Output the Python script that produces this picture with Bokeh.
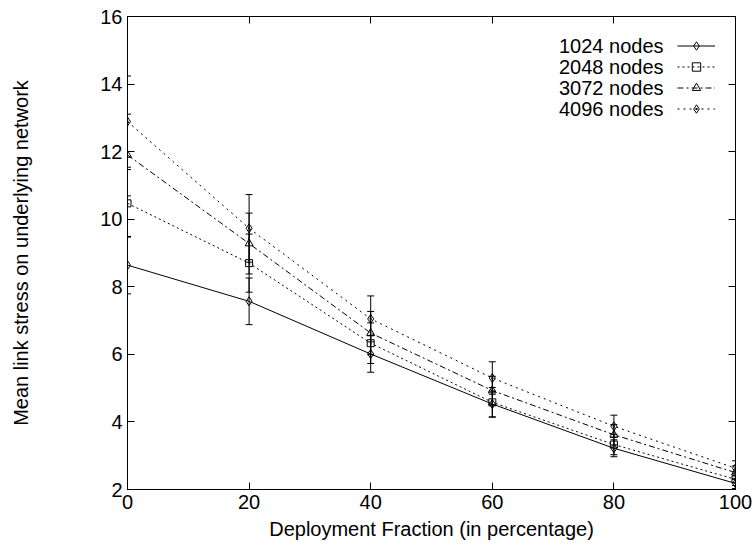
import numpy as np
from bokeh.plotting import figure
from bokeh.models import (Range1d, LinearAxis, FixedTicker, Whisker, ColumnDataSource,
                          Legend, LegendItem, Label, TeeHead)
from bokeh.embed import file_html
from bokeh.resources import INLINE

# ---------------- data ----------------
x_vals = [0, 20, 40, 60, 80, 100]
series_names = ["1024 nodes", "2048 nodes", "3072 nodes", "4096 nodes"]

mean_1024 = [8.64, 7.57, 6.01, 4.53, 3.22, 2.18]
mean_2048 = [10.47, 8.70, 6.33, 4.58, 3.33, 2.30]
mean_3072 = [11.90, 9.28, 6.63, 4.93, 3.62, 2.50]
mean_4096 = [12.89, 9.73, 7.05, 5.30, 3.87, 2.63]

err_1024 = [0.85, 0.69, 0.54, 0.38, 0.25, 0.15]
err_2048 = [1.00, 0.86, 0.60, 0.44, 0.30, 0.18]
err_3072 = [1.21, 0.90, 0.64, 0.42, 0.30, 0.20]
err_4096 = [1.35, 1.00, 0.68, 0.48, 0.33, 0.22]

x_ticks = [0, 20, 40, 60, 80, 100]
y_ticks = [2, 4, 6, 8, 10, 12, 14, 16]

# ---------------- styling ----------------
FONT = "Liberation Sans"
FS = "20px"
means = [mean_1024, mean_2048, mean_3072, mean_4096]
errs = [err_1024, err_2048, err_3072, err_4096]
dashes = ["solid", "2 3", "6 3 2 3", "2 4"]
markers = ["diamond", "square", "triangle", "diamond_dot"]
sizes = [9, 7, 8, 9]

p = figure(width=756, height=548, output_backend="svg", toolbar_location=None,
           x_range=Range1d(0, 100), y_range=Range1d(2, 16),
           min_border_left=127, min_border_right=21, min_border_top=16, min_border_bottom=59)
p.background_fill_color = "white"
p.border_fill_color = "white"
p.outline_line_color = "black"
p.outline_line_width = 1
p.xgrid.visible = False
p.ygrid.visible = False

p.xaxis.axis_label = "Deployment Fraction (in percentage)"
p.yaxis.axis_label = "Mean link stress on underlying network"
for ax in (p.xaxis, p.yaxis):
    ax.axis_label_text_font = FONT
    ax.axis_label_text_font_size = FS
    ax.axis_label_text_font_style = "normal"
    ax.major_label_text_font = FONT
    ax.major_label_text_font_size = FS
    ax.major_label_text_color = "black"
    ax.axis_label_text_color = "black"
    ax.axis_line_color = "black"
    ax.major_tick_line_color = "black"
    ax.major_tick_in = 7
    ax.major_tick_out = 0
    ax.minor_tick_line_color = None
    ax.major_label_standoff = 5
p.xaxis.ticker = FixedTicker(ticks=x_ticks)
p.yaxis.ticker = FixedTicker(ticks=y_ticks)
p.yaxis.axis_label_standoff = 65
p.xaxis.axis_label_standoff = 6

# mirrored tick axes (ticks only, no labels)
top_ax = LinearAxis(ticker=FixedTicker(ticks=x_ticks), major_tick_in=7, major_tick_out=0,
                    minor_tick_line_color=None, major_label_text_font_size="1px",
                    major_label_text_color=None, major_label_standoff=0,
                    axis_line_color="black")
right_ax = LinearAxis(ticker=FixedTicker(ticks=y_ticks), major_tick_in=7, major_tick_out=0,
                      minor_tick_line_color=None, major_label_text_font_size="1px",
                      major_label_text_color=None, major_label_standoff=0,
                      axis_line_color="black")
p.add_layout(top_ax, "above")
p.add_layout(right_ax, "right")

items = []
for name, m, e, d, mk, sz in zip(series_names, means, errs, dashes, markers, sizes):
    up = [a + b for a, b in zip(m, e)]
    lo = [a - b for a, b in zip(m, e)]
    src = ColumnDataSource(dict(x=x_vals, y=m, upper=up, lower=lo))
    w = Whisker(source=src, base="x", upper="upper", lower="lower",
                line_color="black", line_width=1,
                upper_head=TeeHead(size=7, line_color="black", line_width=1),
                lower_head=TeeHead(size=7, line_color="black", line_width=1))
    p.add_layout(w)
    lr = p.line("x", "y", source=src, line_color="black", line_width=1, line_dash=d)
    sr = p.scatter("x", "y", source=src, marker=mk, size=sz,
                   line_color="black", line_width=1, fill_alpha=0)
    items.append(LegendItem(label=" ", renderers=[lr, sr]))

# gnuplot-like key: text right-aligned, sample to the right
ROW = 21
key_top = 489 - 45 + ROW / 2    # frame-relative, from bottom
legend = Legend(items=items, location=(550, key_top - ROW * len(items)),
                glyph_width=38, glyph_height=ROW, label_height=ROW, label_width=0,
                label_standoff=0, spacing=0, padding=0, margin=0,
                label_text_font_size="10px", background_fill_alpha=0, border_line_alpha=0)
p.add_layout(legend)
for i, name in enumerate(series_names):
    p.add_layout(Label(x=536, y=key_top - ROW / 2 - i * ROW, x_units="screen", y_units="screen",
                       text=name, text_align="right", text_baseline="middle",
                       text_font=FONT, text_font_size=FS, text_color="black"))

open("out.html", "w").write(file_html(p, INLINE))
